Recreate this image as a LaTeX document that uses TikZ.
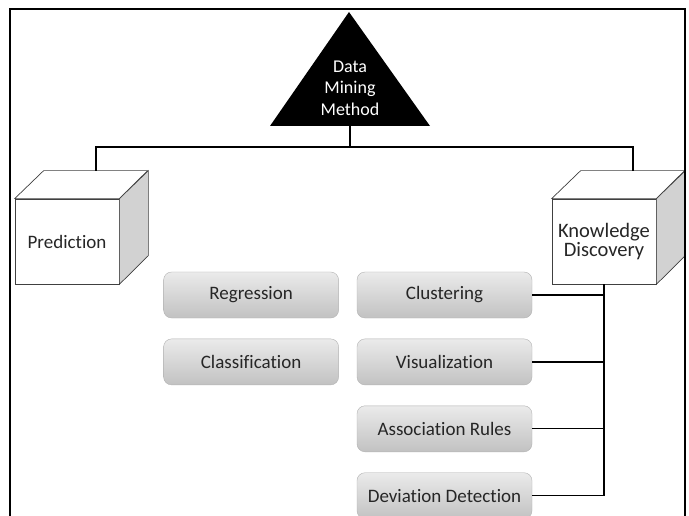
\documentclass[tikz,border=0pt]{standalone}
\usepackage{fontspec}
\setmainfont{Carlito}[Ligatures=NoCommon]
\usetikzlibrary{positioning,calc}

\begin{document}
\begin{tikzpicture}[x=1pt,y=-1pt,font=\fontsize{19}{21.5}\selectfont,text=black!85,
  method/.style={draw=gray!60,rounded corners=8pt,top color=gray!16,bottom color=gray!48,
    minimum width=175pt,minimum height=46pt,inner sep=0pt},
  face/.style={draw=black!75,line width=0.7pt},
  link/.style={line width=1.3pt}]

\clip (0,0) rectangle (689,516);
\fill[white] (0,0) rectangle (689,516);

% top of the tree
\coordinate (apex) at (349,12);
\coordinate (tl) at (270,126);
\coordinate (tr) at (430,126);
\coordinate (base) at (350,126);
\fill (apex) -- (tr) -- (tl) -- cycle;
\node[white,align=center,font=\fontsize{18}{21.5}\selectfont] (dmm) at (350,88) {Data\\Mining\\Method};

% the two cubes
\node[face,fill=white,minimum width=104pt,minimum height=85pt,inner sep=0pt] (pred) at (67,241.5) {Prediction};
\draw[face,fill=white] (pred.north west) -- ++(29,-28) -- ++(104,0) -- (pred.north east) -- cycle;
\draw[face,fill=gray!35] (pred.north east) -- ++(29,-28) -- ++(0,85) -- (pred.south east) -- cycle;
\coordinate (predtop) at ($(pred.north)+(29,-28)$);

\node[face,fill=white,minimum width=104pt,minimum height=85pt,inner sep=0pt,align=center,
  font=\fontsize{20.5}{19.5}\selectfont] (kd) at (604,241.5) {Knowledge\\Discovery};
\draw[face,fill=white] (kd.north west) -- ++(29,-28) -- ++(104,0) -- (kd.north east) -- cycle;
\draw[face,fill=gray!35] (kd.north east) -- ++(29,-28) -- ++(0,85) -- (kd.south east) -- cycle;
\coordinate (kdtop) at ($(kd.north)+(29,-28)$);

\draw[link] (base) -- ++(0,21) -| (predtop);
\draw[link] (base) -- ++(0,21) -| (kdtop);

% methods
\node[method] (clu) at (444.5,295) {Clustering};
\node[method,below=20.5pt of clu] (vis) {Visualization};
\node[method,below=20.5pt of vis] (asr) {Association Rules};
\node[method,below=20.5pt of asr] (dev) {Deviation Detection};
\node[method,left=18pt of clu] (reg) {Regression};
\node[method,left=18pt of vis] (cla) {Classification};

\draw[link] (kd.south) -- (kd.south |- dev.east) -- (dev.east);
\foreach \m in {clu,vis,asr}
  \draw[link] (\m.east) -- (\m.east -| kd.south);

% frame
\draw[line width=1.8pt] (10,516) -- (10,9) -- (685,9) -- (685,516);

\end{tikzpicture}
\end{document}
